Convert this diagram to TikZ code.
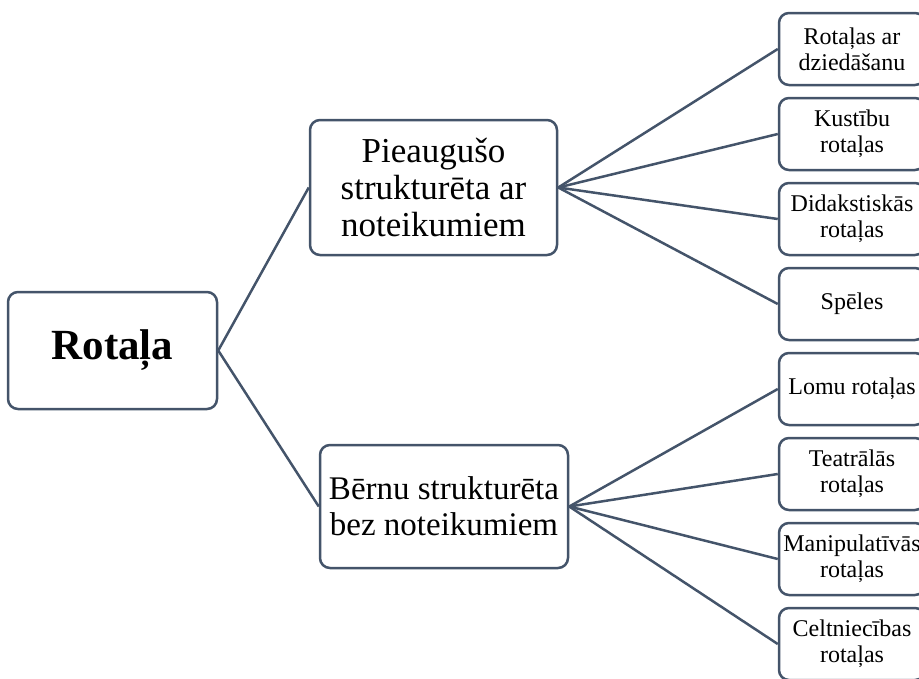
\documentclass[tikz,border=0pt]{standalone}
\usepackage{fontspec}
\setmainfont{LiberationSerif-Regular.ttf}[BoldFont=LiberationSerif-Bold.ttf]
\definecolor{boxline}{HTML}{44546A}
\tikzset{
  box/.style={draw=boxline, line width=2.5pt, rounded corners=10pt, fill=white, align=center, inner sep=0pt},
  leaf/.style={box, minimum width=146pt, minimum height=72pt, font=\fontsize{24}{26}\selectfont},
  link/.style={draw=boxline, line width=2.5pt},
}
\begin{document}
\begin{tikzpicture}[x=1pt,y=-1pt]
\useasboundingbox (0,0) rectangle (919,678);
\clip (0,0) rectangle (919,678);
\node[box, minimum width=209pt, minimum height=117pt, font=\fontsize{43}{48}\selectfont\bfseries] (root) at (112.5,350.5) {Rotaļa};
\node[box, minimum width=247pt, minimum height=135pt, font=\fontsize{35}{37}\selectfont] (adult) at (433.5,187.5) {Pieaugušo\\strukturēta ar\\noteikumiem};
\node[box, minimum width=248pt, minimum height=123pt, font=\fontsize{33}{36}\selectfont] (child) at (444,506.5) {Bērnu strukturēta\\bez noteikumiem};
\node[leaf] (r1) at (852,49) {Rotaļas ar\\dziedāšanu};
\node[leaf] (r2) at (852,134) {Kustību\\rotaļas};
\node[leaf] (r3) at (852,219) {Didakstiskās\\rotaļas};
\node[leaf] (r4) at (852,304) {Spēles};
\node[leaf] (r5) at (852,389) {Lomu rotaļas};
\node[leaf] (r6) at (852,474) {Teatrālās\\rotaļas};
\node[leaf] (r7) at (852,559) {Manipulatīvās\\rotaļas};
\node[leaf] (r8) at (852,644) {Celtniecības\\rotaļas};
\draw[link] (root.east) -- (adult.west);
\draw[link] (root.east) -- (child.west);
\draw[link] (adult.east) -- (r1.west);
\draw[link] (adult.east) -- (r2.west);
\draw[link] (adult.east) -- (r3.west);
\draw[link] (adult.east) -- (r4.west);
\draw[link] (child.east) -- (r5.west);
\draw[link] (child.east) -- (r6.west);
\draw[link] (child.east) -- (r7.west);
\draw[link] (child.east) -- (r8.west);
\end{tikzpicture}
\end{document}
